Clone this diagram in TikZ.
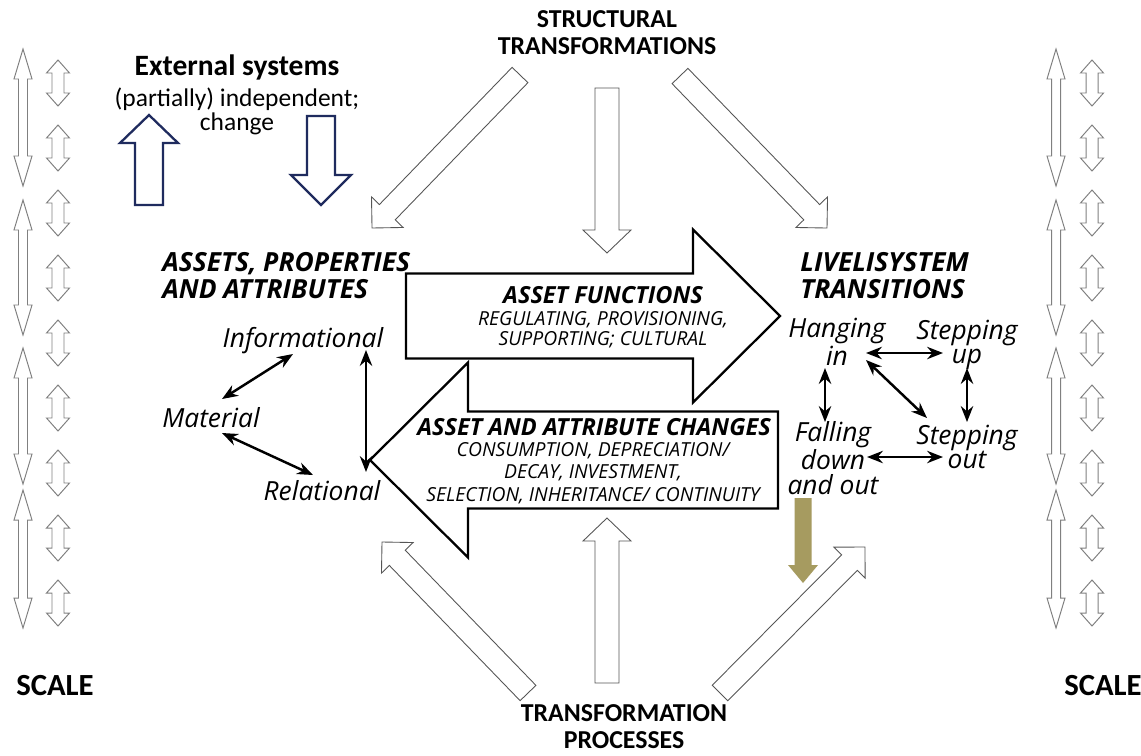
\documentclass[tikz,border=0pt]{standalone}
\usepackage{fontspec}
\setmainfont{Carlito}
\newfontfamily\osfont{Open Sans}
\usetikzlibrary{arrows.meta,calc}

\definecolor{navy}{HTML}{1F2B5E}
\definecolor{khaki}{HTML}{A69B60}
\definecolor{thingray}{HTML}{555555}

% block arrow: [style]{x tail}{y tail}{x tip}{y tip}{shaft half}{head half}{head length}
\newcommand{\blockarrow}[8][]{%
  \pgfmathsetmacro{\baang}{atan2(#3-#5,#4-#2)}%
  \pgfmathsetmacro{\balen}{veclen(#4-#2,#5-#3)}%
  \pgfmathsetmacro{\babase}{\balen-#8}%
  \draw[#1,shift={(#2,#3)},rotate=\baang] (0,#6) -- (\babase,#6) -- (\babase,#7) -- (\balen,0)
    -- (\babase,-#7) -- (\babase,-#6) -- (0,-#6) -- cycle;%
}
% vertical double arrow: [style]{x}{y top}{y bottom}{shaft half}{head half}{head length}
\newcommand{\dblarrow}[7][]{%
  \draw[#1] (#2,#3) -- ({#2+#6},{#3+#7}) -- ({#2+#5},{#3+#7}) -- ({#2+#5},{#4-#7}) -- ({#2+#6},{#4-#7})
    -- (#2,#4) -- ({#2-#6},{#4-#7}) -- ({#2-#5},{#4-#7}) -- ({#2-#5},{#3+#7}) -- ({#2-#6},{#3+#7}) -- cycle;%
}

\begin{document}
\begin{tikzpicture}[x=0.02cm, y=-0.02cm,
  thinarrow/.style={draw=thingray, line width=0.5pt, fill=white},
  bigarrow/.style={draw=black, line width=1.3pt, fill=white},
  bluearrow/.style={draw=navy, line width=1.3pt, fill=white},
  goldarrow/.style={fill=khaki, draw=none},
  scalearrow/.style={draw=gray, line width=0.55pt, fill=white},
  capslbl/.style={font=\bfseries\fontsize{14.7}{15.3}\selectfont, align=center, inner sep=0pt},
  heading/.style={font=\osfont\bfseries\itshape\fontsize{15}{15.3}\selectfont, align=left, anchor=west, inner sep=0pt},
  state/.style={font=\osfont\itshape\fontsize{15}{14}\selectfont, align=center, inner sep=0pt},
  arrtitle/.style={font=\osfont\bfseries\itshape\fontsize{13.4}{14}\selectfont, inner sep=0pt},
  arrlist/.style={font=\osfont\itshape\fontsize{11}{11.6}\selectfont, align=center, inner sep=0pt},
  link/.style={{Stealth[length=9pt,width=7pt]}-{Stealth[length=9pt,width=7pt]}, line width=1.4pt},
]
	\useasboundingbox[fill=white] (0,0) rectangle (1141,755);

	% Scale columns
	\foreach \sx/\lx in {23/58, 1056/1092} {
		\foreach \ya/\yb in {49/186, 200/335, 348/484, 490/628} {
			\dblarrow[scalearrow]{\sx}{\ya}{\yb}{4.5}{9}{30}
		}
		\foreach \yy in {83,148,...,603} {
			\dblarrow[scalearrow]{\lx}{\yy-23}{\yy+23}{6}{11.5}{13}
		}
	}
	\node[capslbl, font=\bfseries\fontsize{17.5}{18}\selectfont] (scaleL) at (55,686) {SCALE};
	\node[capslbl, font=\bfseries\fontsize{17.5}{18}\selectfont] (scaleR) at (1103,686) {SCALE};

	% External systems
	\node[font=\bfseries\fontsize{16.8}{18}\selectfont, inner sep=0pt] (extsys) at (237,67) {External systems};
	\node[font=\fontsize{14.5}{13.6}\selectfont, align=center, inner sep=0pt] (extnote) at (237,111)
		{(partially) independent;\\change};
	\blockarrow[bluearrow]{149}{205}{149}{115}{14}{29}{28}
	\blockarrow[bluearrow]{321}{116}{321}{205}{14}{30}{30}

	% Structural transformations
	\node[capslbl] (struct) at (607,33) {STRUCTURAL\\TRANSFORMATIONS};
	\blockarrow[thinarrow]{520}{75}{372}{228}{11}{22}{22}
	\blockarrow[thinarrow]{607}{88}{607}{253}{12}{24}{23}
	\blockarrow[thinarrow]{680}{76}{827}{228}{11}{22}{22}

	% Transformation processes
	\node[capslbl] (tproc) at (624,727) {TRANSFORMATION\\PROCESSES};
	\blockarrow[thinarrow]{528}{693}{382}{542}{11}{22}{22}
	\blockarrow[thinarrow]{607}{683}{607}{518}{12}{24}{23}
	\blockarrow[thinarrow]{720}{693}{865}{547}{11}{22}{22}

	% Central arrows
	\blockarrow[bigarrow]{406}{316}{780}{316}{42.5}{86.5}{87}
	\blockarrow[bigarrow]{778}{460}{370}{460}{48.5}{97.5}{98}
	\node[arrtitle] (funcs) at (603,295) {ASSET FUNCTIONS};
	\node[arrlist] (funclist) at (603,330) {REGULATING, PROVISIONING,\\SUPPORTING; CULTURAL};
	\node[arrtitle] (changes) at (594,427) {ASSET AND ATTRIBUTE CHANGES};
	\node[arrlist, font=\osfont\itshape\fontsize{11}{12.8}\selectfont] (changelist) at (593,473)
		{CONSUMPTION, DEPRECIATION/\\DECAY, INVESTMENT,\\SELECTION, INHERITANCE/ CONTINUITY};

	% Assets side
	\node[heading] (assets) at (162,276) {ASSETS, PROPERTIES\\AND ATTRIBUTES};
	\node[state] (inf) at (303,341) {Informational};
	\node[state] (mat) at (211,418) {Material};
	\node[state] (rel) at (322,491) {Relational};
	\draw[link] ($(inf)+(-10,13)$) -- ($(mat)+(11,-19)$);
	\draw[link] ($(mat)+(11,15)$) -- ($(rel)+(-9,-16)$);
	\draw[link] ($(inf)+(63,9)$) -- ($(rel)+(44,-19)$);

	% Transitions side
	\node[heading] (livsys) at (800,276) {LIVELISYSTEM\\TRANSITIONS};
	\node[state] (hang) at (837,342) {Hanging\\in};
	\node[state] (up) at (967,345) {Stepping\\up};
	\node[state] (fall) at (833,458) {Falling\\down\\and out};
	\node[state] (out) at (967,447) {Stepping\\out};
	\draw[link] ($(hang)+(29,11)$) -- ($(up)+(-24,8)$);
	\draw[link] ($(hang)+(29,18)$) -- ($(out)+(-40,-29)$);
	\draw[link] ($(hang)+(-12,26)$) -- ($(fall)+(-8,-36)$);
	\draw[link] ($(up)+(0,23)$) -- ($(out)+(0,-25)$);
	\draw[link] ($(fall)+(34,-1)$) -- ($(out)+(-24,10)$);

	% Falling out
	\blockarrow[goldarrow]{803}{498}{803}{583}{8.5}{15}{18}

\end{tikzpicture}
\end{document}
